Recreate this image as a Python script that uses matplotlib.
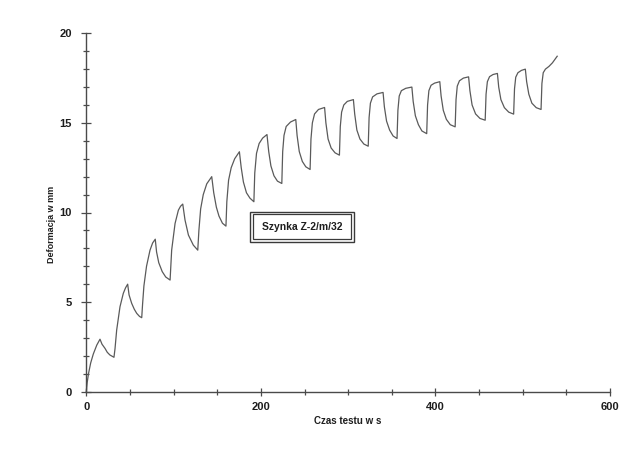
import matplotlib
matplotlib.use("Agg")
import matplotlib.pyplot as plt
from matplotlib.patches import Rectangle
from matplotlib.ticker import MultipleLocator, FixedLocator

plt.rcParams['font.family'] = ['Liberation Sans', 'DejaVu Sans']

# Data: time in s, deformation in mm
czas = [
    0, 1, 2.5, 5, 8, 12, 15.7, 18, 21.4, 24, 27, 31.7,
    32.9, 34.8, 38.6, 42.4, 45, 47.4, 49, 52, 55, 57.8, 61, 63.5,
    64.5, 66, 69, 73, 76, 79, 80.5, 83, 87, 91, 96,
    97.8, 101.7, 105.5, 108, 110.5, 113.1, 117, 122.6, 127.7,
    129, 131, 134, 138, 143.7, 146, 149, 152, 156, 160,
    161, 163, 166, 170, 175.4, 177.5, 180, 183.5, 187.5, 192,
    193, 195, 198, 202, 207, 209, 211.5, 215, 219, 224,
    225, 226.5, 229, 234, 240, 241.5, 244, 247.5, 251.5, 256.4,
    257.4, 259, 261.5, 266, 273, 274.5, 277, 280.5, 285, 290,
    291, 292.5, 295, 299, 306, 307.5, 310, 313.5, 318, 323,
    324, 325.5, 328, 333, 340, 341.5, 344, 347.5, 351.5, 356,
    357, 358.5, 361, 366, 373, 374.5, 377, 380.5, 384.5, 390,
    391, 392.5, 395, 399, 405, 406.5, 409, 412.5, 417, 422.6,
    423.6, 425, 427.5, 432, 438, 439.5, 442, 446, 451, 457,
    458, 459.5, 462, 466, 471, 472.5, 475, 479, 484, 489.6,
    490.6, 492, 494.5, 498.5, 503, 504.5, 507, 510.5, 515.5, 521,
    522, 523.5, 526, 530, 534, 537, 539.5,
]
deformacja = [
    0, 0.5, 1.0, 1.6, 2.1, 2.6, 2.93, 2.65, 2.42, 2.2, 2.05, 1.92,
    2.4, 3.44, 4.74, 5.49, 5.8, 6.0, 5.4, 4.93, 4.6, 4.37, 4.2, 4.13,
    4.9, 5.9, 7.0, 7.9, 8.3, 8.51, 7.8, 7.2, 6.7, 6.4, 6.23,
    7.9, 9.39, 10.13, 10.35, 10.47, 9.58, 8.74, 8.18, 7.9,
    9.0, 10.2, 11.0, 11.6, 12.0, 11.1, 10.3, 9.8, 9.4, 9.24,
    10.6, 11.8, 12.5, 13.0, 13.39, 12.5, 11.7, 11.1, 10.8, 10.6,
    12.2, 13.3, 13.85, 14.15, 14.35, 13.4, 12.6, 12.05, 11.75, 11.62,
    13.4, 14.3, 14.8, 15.05, 15.19, 14.3, 13.4, 12.85, 12.55, 12.4,
    14.1, 15.0, 15.5, 15.75, 15.86, 15.0, 14.1, 13.6, 13.33, 13.2,
    14.8, 15.6, 16.0, 16.2, 16.3, 15.5, 14.6, 14.1, 13.82, 13.7,
    15.3, 16.1, 16.45, 16.62, 16.7, 15.9, 15.1, 14.6, 14.27, 14.13,
    15.7, 16.5, 16.8, 16.93, 17.0, 16.2, 15.4, 14.9, 14.55, 14.4,
    16.0, 16.8, 17.1, 17.22, 17.3, 16.5, 15.7, 15.2, 14.9, 14.78,
    16.3, 17.05, 17.35, 17.5, 17.57, 16.8, 16.0, 15.5, 15.25, 15.15,
    16.6, 17.3, 17.58, 17.7, 17.76, 17.0, 16.3, 15.85, 15.6, 15.49,
    16.9, 17.55, 17.8, 17.93, 18.0, 17.3, 16.6, 16.1, 15.85, 15.75,
    17.2, 17.8, 18.0, 18.15, 18.35, 18.55, 18.72,
]

x_ticks_major = [0, 200, 400, 600]
y_ticks_major = [0, 5, 10, 15, 20]
x_label = "Czas testu w s"
y_label = "Deformacja w mm"
box_text = "Szynka Z-2/m/32"

W, H = 619, 457
fig = plt.figure(figsize=(W / 100, H / 100), dpi=100)
fig.patch.set_facecolor("white")

x0, x1 = 86.3, 610.0
y0, y1 = 391.7, 33.3
ax = fig.add_axes([x0 / W, (H - y0) / H, (x1 - x0) / W, (y0 - y1) / H])
ax.set_facecolor("none")

axis_col = "#4a4a4a"
ax.plot(czas, deformacja, color="#5a5a5a", lw=0.9, clip_on=False,
        solid_joinstyle="round")

ax.set_xlim(0, 600)
ax.set_ylim(0, 20)
for s in ("top", "right"):
    ax.spines[s].set_visible(False)
for s in ("left", "bottom"):
    ax.spines[s].set_color(axis_col)
    ax.spines[s].set_linewidth(1.0)

ax.xaxis.set_major_locator(FixedLocator(x_ticks_major))
ax.xaxis.set_minor_locator(MultipleLocator(50))
ax.yaxis.set_major_locator(FixedLocator(y_ticks_major))
ax.yaxis.set_minor_locator(MultipleLocator(1))

ax.tick_params(axis="both", which="both", direction="inout", color=axis_col,
               width=0.9, labelcolor="#1e1e1e")
ax.tick_params(axis="y", which="major", length=7.2, pad=6.7, labelsize=8)
ax.tick_params(axis="y", which="minor", length=4.8)
ax.tick_params(axis="x", which="major", length=5.3, pad=4.6, labelsize=8)
ax.tick_params(axis="x", which="minor", length=4.3)
for lab in ax.get_xticklabels() + ax.get_yticklabels():
    lab.set_fontweight("bold")

fig.text(348 / W, 1 - 421 / H, x_label, ha="center", va="center",
         fontsize=7, fontweight="bold", color="#1e1e1e")
fig.text(51.7 / W, 1 - 224 / H, y_label, ha="center", va="center",
         rotation=90, fontsize=6.5, fontweight="bold", color="#1e1e1e")

# Double-bordered label box
def px_rect(xa, ya, xb, yb, lw):
    return Rectangle((xa / W, 1 - yb / H), (xb - xa) / W, (yb - ya) / H,
                     transform=fig.transFigure, fill=False,
                     edgecolor="#3a3a3a", lw=lw)

fig.add_artist(px_rect(250, 211.7, 354, 241.7, 1.0))
fig.add_artist(px_rect(252.7, 214.2, 350.9, 239.3, 0.9))
fig.text(302.5 / W, 1 - 226.5 / H, box_text, ha="center", va="center",
         fontsize=7.5, fontweight="bold", color="#1e1e1e")

fig.savefig("out.png", dpi=100, facecolor="white")
